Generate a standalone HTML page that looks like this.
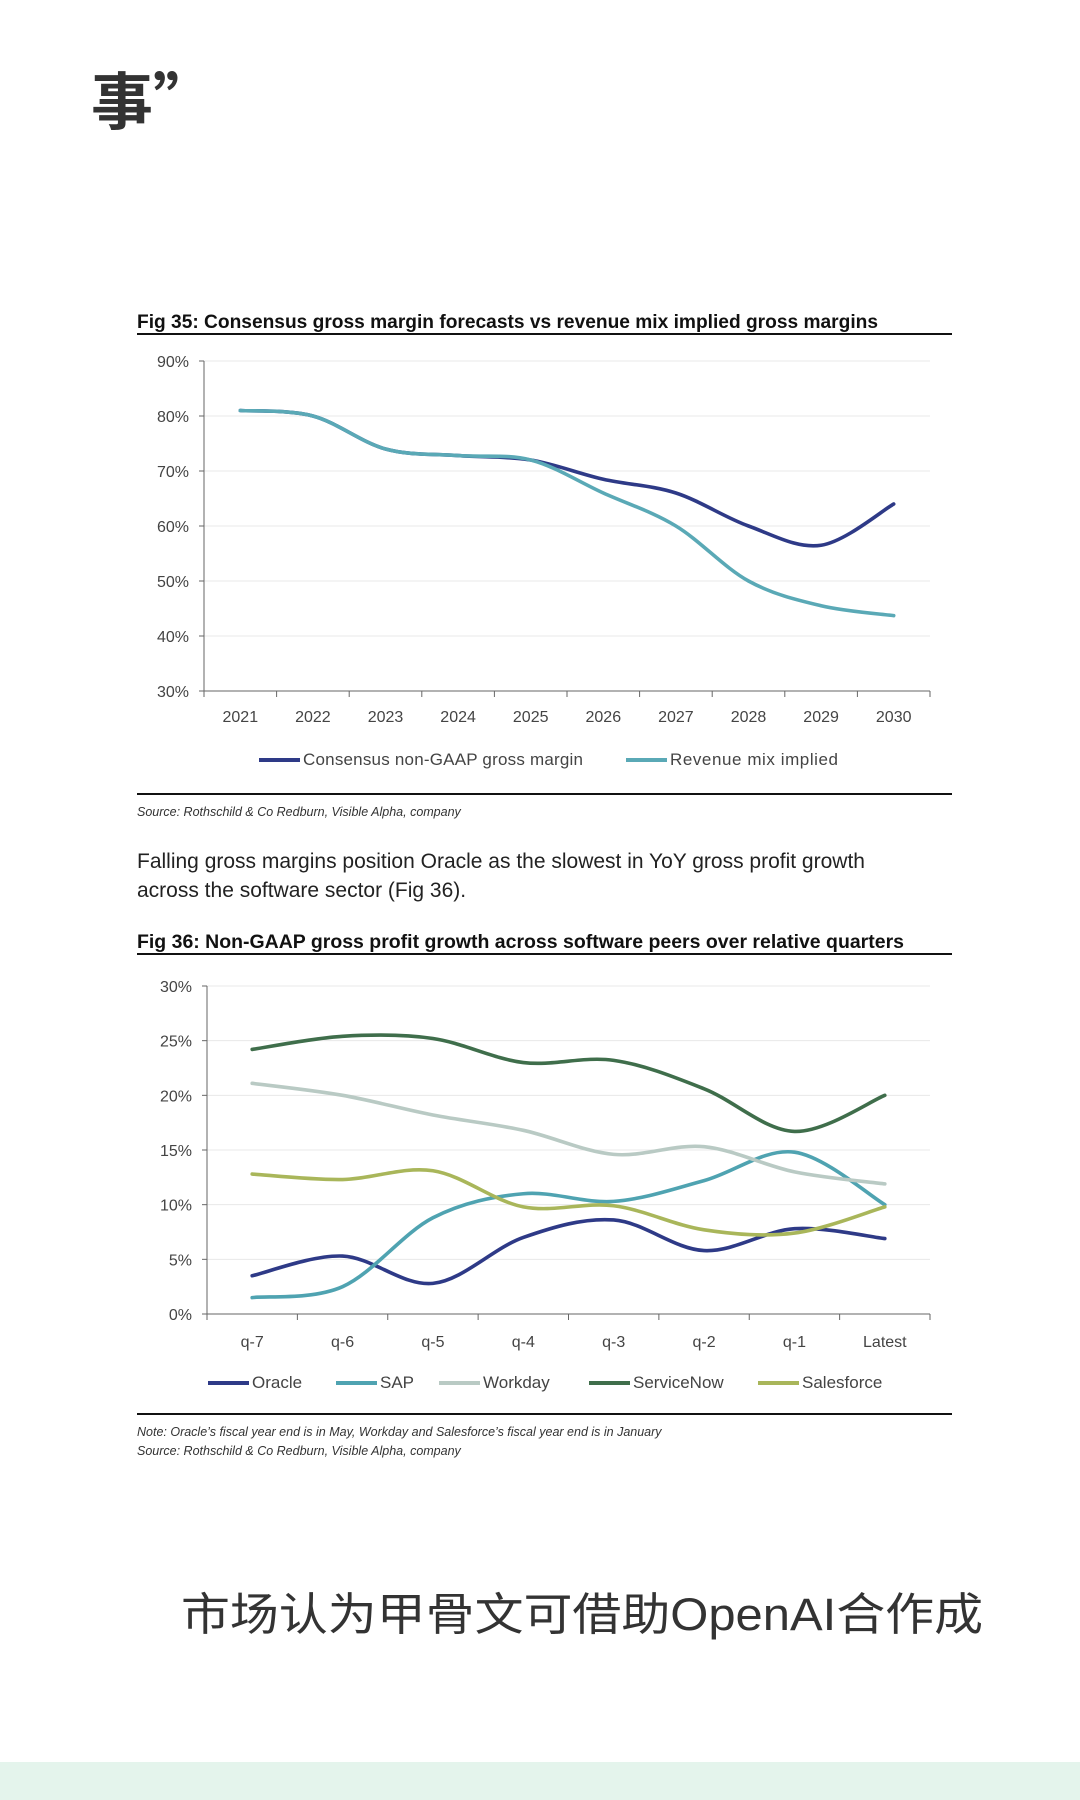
<!DOCTYPE html>
<html><head><meta charset="utf-8">
<style>
html,body{margin:0;padding:0;background:#fff;}
body{width:1080px;height:1800px;position:relative;overflow:hidden;font-family:"Liberation Sans",sans-serif;}
svg{position:absolute;left:0;top:0;}
</style></head>
<body>
<svg id="s" width="1080" height="1800" viewBox="0 0 1080 1800">
<text x="91" y="124" font-size="62" font-weight="bold" fill="#333" font-family="'Noto Sans CJK SC',sans-serif">事”</text>

<text x="137" y="328" font-size="19" font-weight="bold" fill="#111" textLength="741" lengthAdjust="spacingAndGlyphs">Fig 35: Consensus gross margin forecasts vs revenue mix implied gross margins</text>
<rect x="137" y="333" width="815" height="2" fill="#111"/>
<g id="c1"></g>
<rect x="137" y="793" width="815" height="2" fill="#111"/>
<text x="137" y="816" font-size="12.5" font-style="italic" fill="#333">Source: Rothschild &amp; Co Redburn, Visible Alpha, company</text>

<text x="137" y="868" font-size="21" fill="#222">Falling gross margins position Oracle as the slowest in YoY gross profit growth</text>
<text x="137" y="897" font-size="21" fill="#222">across the software sector (Fig 36).</text>

<text x="137" y="948" font-size="19" font-weight="bold" fill="#111" textLength="767" lengthAdjust="spacingAndGlyphs">Fig 36: Non-GAAP gross profit growth across software peers over relative quarters</text>
<rect x="137" y="953" width="815" height="2" fill="#111"/>
<g id="c2"></g>
<rect x="137" y="1413" width="815" height="2" fill="#111"/>
<text x="137" y="1436" font-size="12.5" font-style="italic" fill="#333">Note: Oracle’s fiscal year end is in May, Workday and Salesforce’s fiscal year end is in January</text>
<text x="137" y="1455" font-size="12.5" font-style="italic" fill="#333">Source: Rothschild &amp; Co Redburn, Visible Alpha, company</text>

<text x="181" y="1630" font-size="45" fill="#333" font-family="'Liberation Sans','Noto Sans CJK SC',sans-serif" textLength="802" lengthAdjust="spacingAndGlyphs">市场认为甲骨文可借助OpenAI合作成</text>
<rect x="0" y="1762" width="1080" height="38" fill="#e4f4ec"/>
</svg>
<script>
const NS="http://www.w3.org/2000/svg";
const years=["2021","2022","2023","2024","2025","2026","2027","2028","2029","2030"];
const consensus=[81,80,74,72.8,72,68.5,66,60,56.5,64];
const revenueMix=[81,80,74,72.8,72,66,60,50,45.5,43.7];
const ticks1=[30,40,50,60,70,80,90];

const quarters=["q-7","q-6","q-5","q-4","q-3","q-2","q-1","Latest"];
const oracle=[3.5,5.3,2.8,7,8.6,5.8,7.8,6.9];
const sap=[1.5,2.5,8.8,11,10.3,12.2,14.8,10];
const workday=[21.1,20,18.2,16.8,14.6,15.3,13,11.9];
const serviceNow=[24.2,25.4,25.2,23,23.2,20.6,16.7,20];
const salesforce=[12.8,12.3,13.1,9.8,9.9,7.7,7.4,9.8];
const ticks2=[0,5,10,15,20,25,30];

function mk(tag,attrs,parent){const e=document.createElementNS(NS,tag);for(const k in attrs)e.setAttribute(k,attrs[k]);parent.appendChild(e);return e;}
function smooth(pts){let d="M"+pts[0][0]+","+pts[0][1];for(let i=0;i<pts.length-1;i++){const p0=pts[i-1]||pts[i],p1=pts[i],p2=pts[i+1],p3=pts[i+2]||p2;const t=6;d+=" C"+(p1[0]+(p2[0]-p0[0])/t)+","+(p1[1]+(p2[1]-p0[1])/t)+" "+(p2[0]-(p3[0]-p1[0])/t)+","+(p2[1]-(p3[1]-p1[1])/t)+" "+p2[0]+","+p2[1];}return d;}

function chart(g,cfg){
  const {x0,x1,yTop,yBot,vmin,vmax,cats,ticks,series,labelY,legendY,legend}=cfg;
  const cw=(x1-x0)/cats.length;
  const X=i=>x0+cw*(i+0.5);
  const Y=v=>yBot-(v-vmin)/(vmax-vmin)*(yBot-yTop);
  ticks.forEach(t=>{
    const y=Y(t);
    if(t!==vmin){const l=mk("line",{x1:x0,x2:x1,y1:y,y2:y,stroke:"#e8e8e8","stroke-width":1},g);
    
    }
    const tk=mk("line",{x1:x0-5,x2:x0,y1:y,y2:y,stroke:"#666"},g);
    
    
    const tx=mk("text",{x:x0-15,y:y+6,"text-anchor":"end","font-size":16,fill:"#444"},g);
    tx.textContent=t+"%";
    
    
  });
  const ax=mk("line",{x1:x0,x2:x0,y1:yTop,y2:yBot,stroke:"#666"},g);
  
  
  const bx=mk("line",{x1:x0,x2:x1,y1:yBot,y2:yBot,stroke:"#666"},g);
  
  
  for(let i=0;i<=cats.length;i++){
    const t=mk("line",{x1:x0+cw*i,x2:x0+cw*i,y1:yBot,y2:yBot+6,stroke:"#666"},g);
    
    
  }
  cats.forEach((c,i)=>{
    const t=mk("text",{x:X(i),y:labelY,"text-anchor":"middle","font-size":16,fill:"#444"},g);
    t.textContent=c;
    
    
  });
  series.forEach(s=>{
    const p=mk("path",{d:smooth(s.v.map((v,i)=>[X(i),Y(v)])),fill:"none",stroke:s.c,"stroke-width":3.6,"stroke-linecap":"round"},g);
    
    
  });
  legend.forEach((L,i)=>{
    const s=series[i];
    const l=mk("line",{x1:L[0],x2:L[0]+41,y1:legendY-5,y2:legendY-5,stroke:s.c,"stroke-width":4},g);
    
    
    const t=mk("text",{x:L[0]+44,y:legendY,"font-size":17,fill:"#444"},g);
    t.textContent=s.label;
    if(L[1])t.setAttribute("textLength",L[1]);
    
    
  });
}
chart(document.getElementById("c1"),{x0:204,x1:930,yTop:361,yBot:691,vmin:30,vmax:90,cats:years,ticks:ticks1,labelY:722,legendY:765,
  series:[{n:"consensus",c:"#2e3a87",v:consensus,label:"Consensus non-GAAP gross margin"},{n:"revenue-mix",c:"#5aa9b6",v:revenueMix,label:"Revenue mix implied"}],
  legend:[[259,280],[626,168]]});
chart(document.getElementById("c2"),{x0:207,x1:930,yTop:986,yBot:1314,vmin:0,vmax:30,cats:quarters,ticks:ticks2,labelY:1347,legendY:1388,
  series:[{n:"oracle",c:"#2e3a87",v:oracle,label:"Oracle"},{n:"sap",c:"#4fa3b1",v:sap,label:"SAP"},{n:"workday",c:"#b9cac4",v:workday,label:"Workday"},{n:"servicenow",c:"#3f6e4b",v:serviceNow,label:"ServiceNow"},{n:"salesforce",c:"#a9b65a",v:salesforce,label:"Salesforce"}],
  legend:[[208,0],[336,0],[439,0],[589,0],[758,0]]});
</script>
</body></html>
